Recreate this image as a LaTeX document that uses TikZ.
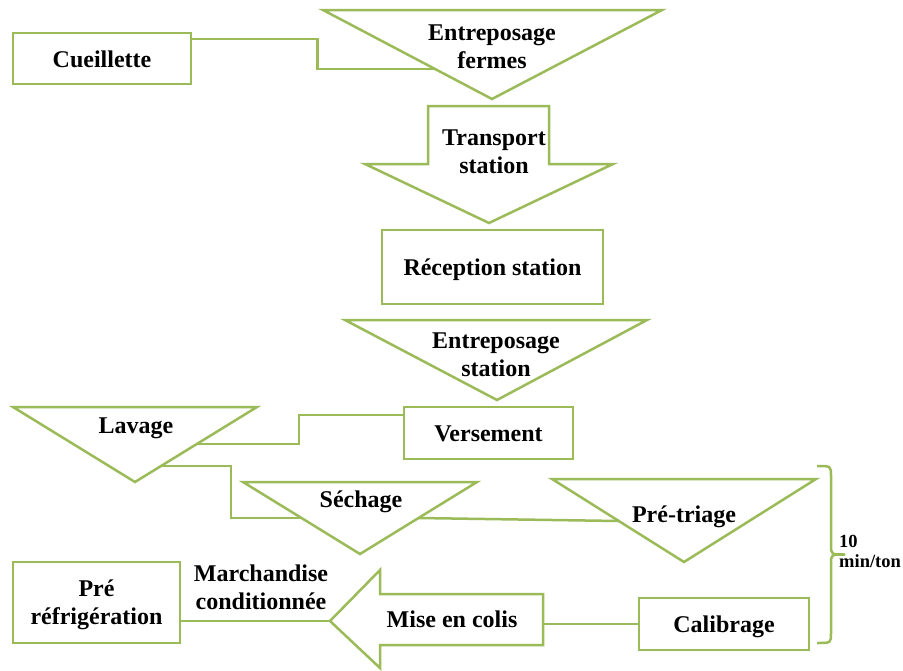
\documentclass[tikz,border=0pt]{standalone}
\usepackage{fontspec}
\setmainfont{Liberation Serif}
\usetikzlibrary{calc}
\definecolor{leaf}{RGB}{155,187,89}
% fixed line extent so every label sits on a predictable baseline
\newcommand\linestrut{\rule[-5pt]{0pt}{27pt}}
\begin{document}
\begin{tikzpicture}[x=1pt,y=-1pt,
  every node/.style={inner sep=0pt},
  txt/.style={font=\bfseries\fontsize{24}{28}\selectfont, align=center, text=black},
  small/.style={font=\bfseries\fontsize{18.5}{20}\selectfont, align=left, text=black},
  procbox/.style={txt, draw=leaf, line width=2.5pt, fill=white},
  tri/.style={draw=leaf, line width=2.5pt, fill=white, line join=miter},
  link/.style={draw=leaf, line width=2.5pt},
]
\useasboundingbox (0,0) rectangle (903,670);

% rectangular steps
\node[procbox, minimum width=178pt, minimum height=51pt] (cue) at (102,58.5) {\linestrut Cueillette};
\node[procbox, minimum width=221pt, minimum height=74pt] (rec) at (492.5,267) {\linestrut Réception station};
\node[procbox, minimum width=169pt, minimum height=52pt] (ver) at (488.5,433) {\linestrut Versement};
\node[procbox, minimum width=167pt, minimum height=81pt] (pre) at (96.5,602.5) {\linestrut Pré\\\linestrut réfrigération};
\node[procbox, minimum width=170pt, minimum height=52pt] (cal) at (724,624) {\linestrut Calibrage};

% storage / waiting triangles
\coordinate (tefA) at (323,10);  \coordinate (tefB) at (662,10);  \coordinate (tefC) at (492,99);
\coordinate (tesA) at (345,320); \coordinate (tesB) at (647,320); \coordinate (tesC) at (497,400);
\coordinate (lavA) at (13,407);  \coordinate (lavB) at (257,407); \coordinate (lavC) at (135,482);
\coordinate (secA) at (243,482); \coordinate (secB) at (477,482); \coordinate (secC) at (360,554);
\coordinate (ptrA) at (552,479); \coordinate (ptrB) at (816,479); \coordinate (ptrC) at (684,562);

\draw[tri] (tefA) -- (tefB) -- (tefC) -- cycle;
\draw[tri] (tesA) -- (tesB) -- (tesC) -- cycle;
\draw[tri] (lavA) -- (lavB) -- (lavC) -- cycle;
\draw[tri] (secA) -- (secB) -- (secC) -- cycle;
\draw[tri] (ptrA) -- (ptrB) -- (ptrC) -- cycle;

\node[txt] (tef) at (492,46) {\linestrut Entreposage\\\linestrut fermes};
\node[txt] (tes) at (496,353.5) {\linestrut Entreposage\\\linestrut station};
\node[txt] (lav) at (136,425.5) {\linestrut Lavage};
\node[txt] (sec) at (361,499.5) {\linestrut Séchage};
\node[txt] (ptr) at (684,514.5) {\linestrut Pré-triage};

% block arrows
\draw[tri] (428,106) -- (549,106) -- (549,164) -- (613,164) -- (489,223) -- (365,164) -- (428,164) -- cycle;
\node[txt] (tra) at (494,150.5) {\linestrut Transport\\\linestrut station};

\coordinate (miseTip) at (330,621);
\coordinate (miseR) at (543,620);
\draw[tri] (543,594) -- (380,594) -- (380,570) -- (miseTip) -- (380,668) -- (380,645) -- (543,645) -- cycle;
\node[txt] (mise) at (452,618.5) {\linestrut Mise en colis};

% connectors
\draw[link] ([yshift=-7pt]cue.north east) -- ++(125,0) |- ($(tefA)!0.663!(tefC)$);
\draw[link] ([yshift=-9pt]ver.north west) -- ++(-104,0) |- ($(lavB)!0.493!(lavC)$);
\draw[link] ($(lavB)!0.787!(lavC)$) -- ++(70,0) |- ($(secA)!0.5!(secC)$);
\draw[link] ($(secB)!0.5!(secC)$) -- ($(ptrA)!0.506!(ptrC)$);
\draw[link] ([yshift=-18.5pt]pre.east) -- (miseTip);
\draw[link] (cal.west) -- (cal.west -| miseR);

\node[txt] (mar) at (261,586.5) {\linestrut Marchandise\\\linestrut conditionnée};

% duration brace
\draw[link] (817,466) .. controls (831,466) .. (831,476) -- (831,545)
  .. controls (831,554.5) .. (845,554.5);
\draw[link] (845,554.5) .. controls (831,554.5) .. (831,564) -- (831,633)
  .. controls (831,643) .. (817,643);
\node[small, anchor=west] (dur) at (839,551) {10\\min/ton};
\end{tikzpicture}
\end{document}
